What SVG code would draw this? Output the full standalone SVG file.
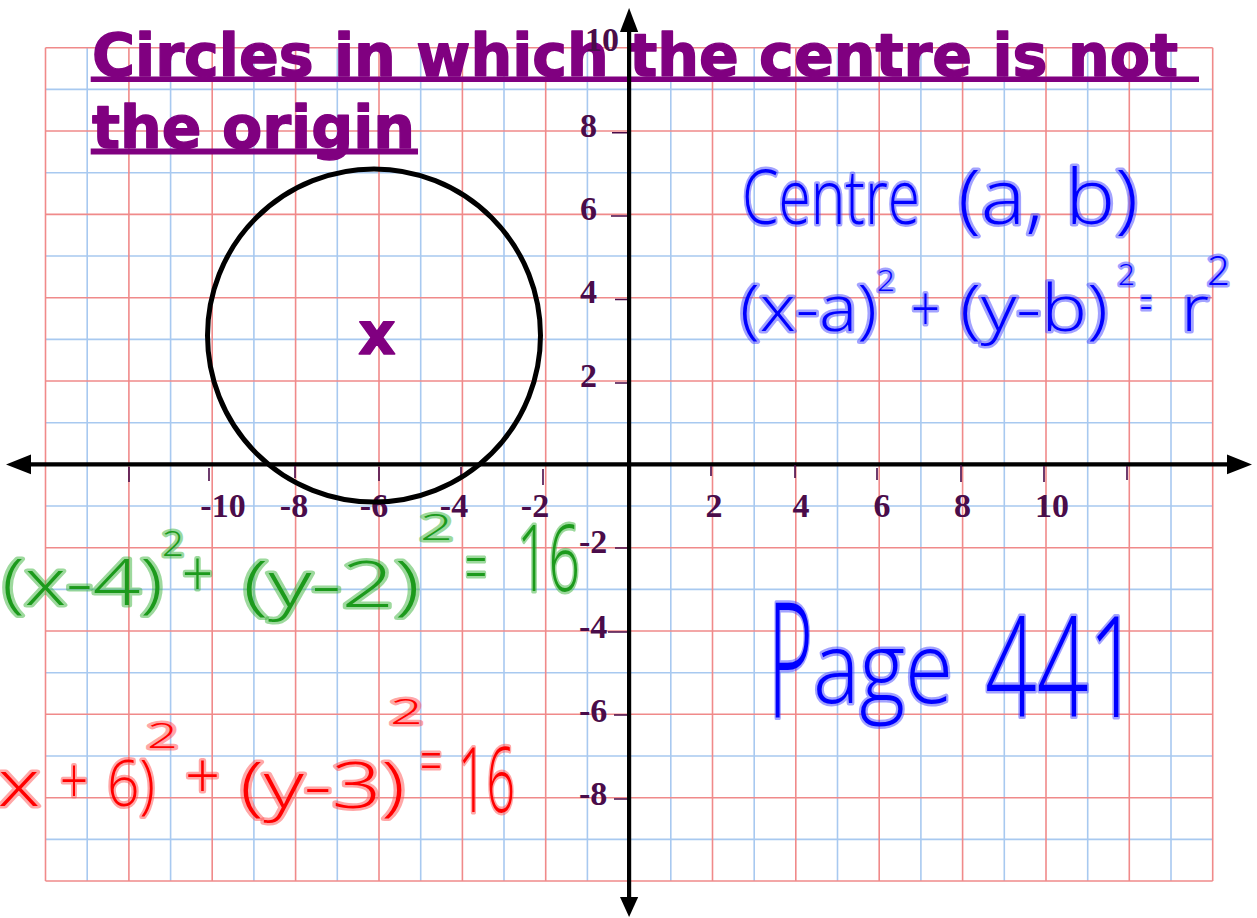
<svg xmlns="http://www.w3.org/2000/svg" width="1257" height="918" viewBox="0 0 1257 918">
<style>
.gb{stroke:#a8c9f0;stroke-width:1.6;fill:none}
.gr{stroke:#f08a8a;stroke-width:1.6;fill:none}
.ax{stroke:#000;stroke-width:4.2;fill:none}
.ah{fill:#000}
.tk{stroke:#4a0c4a;stroke-width:1.6;fill:none}
.lb{font-family:"Liberation Serif","Times New Roman",serif;font-weight:bold;font-size:34px;fill:#4a0c4a}
.title{font-family:"DejaVu Sans",Verdana,sans-serif;font-weight:bold;font-size:59px;fill:#800080;stroke:#800080;stroke-width:1.4px;stroke-linejoin:round}
.ul{fill:#800080}
.hw{font-family:"Open Sans","Noto Sans",sans-serif;font-weight:300;paint-order:stroke;stroke-linejoin:round;stroke-linecap:round;stroke-width:5px}
.blue{fill:#0000ff;stroke:rgba(70,70,255,0.5)}
.green{fill:#1c9a1c;stroke:rgba(60,180,60,0.5)}
.red{fill:#ff0000;stroke:rgba(255,80,80,0.5)}
</style>
<rect width="1257" height="918" fill="#fff"/>
<g id="grid">
<path class="gb" d="M87.2 47.7V881M170.6 47.7V881M253.9 47.7V881M337.3 47.7V881M420.7 47.7V881M504 47.7V881M587.4 47.7V881M670.8 47.7V881M754.2 47.7V881M837.5 47.7V881M920.9 47.7V881M1004.3 47.7V881M1087.7 47.7V881M1171 47.7V881M45.5 89.4H1212.7M45.5 172.7H1212.7M45.5 256H1212.7M45.5 339.4H1212.7M45.5 422.7H1212.7M45.5 506H1212.7M45.5 589.4H1212.7M45.5 672.7H1212.7M45.5 756H1212.7M45.5 839.4H1212.7"/>
<path class="gr" d="M45.5 47.7V881M128.9 47.7V881M212.2 47.7V881M295.6 47.7V881M379 47.7V881M462.4 47.7V881M545.7 47.7V881M629.1 47.7V881M712.5 47.7V881M795.8 47.7V881M879.2 47.7V881M962.6 47.7V881M1046 47.7V881M1129.3 47.7V881M1212.7 47.7V881M45.5 47.7H1212.7M45.5 131H1212.7M45.5 214.4H1212.7M45.5 297.7H1212.7M45.5 381H1212.7M45.5 464.4H1212.7M45.5 547.7H1212.7M45.5 631H1212.7M45.5 714.3H1212.7M45.5 797.7H1212.7M45.5 881H1212.7"/>
</g>
<g id="title">
<text class="title" x="92" y="76" textLength="1086" lengthAdjust="spacingAndGlyphs">Circles in which the centre is not</text>
<rect class="ul" x="90.7" y="76.5" width="1108.3" height="5.5"/>
<text class="title" x="92" y="148" textLength="323" lengthAdjust="spacingAndGlyphs">the origin</text>
<rect class="ul" x="90.7" y="148.5" width="327.3" height="6"/>
</g>
<g id="axes">
<line class="ax" x1="28" y1="464.4" x2="1230" y2="464.4"/>
<polygon class="ah" points="6,464.4 31,454.5 31,474.3"/>
<polygon class="ah" points="1252,464.4 1227,454.5 1227,474.3"/>
<line class="ax" x1="629.1" y1="28" x2="629.1" y2="900"/>
<polygon class="ah" points="629.1,8 620,32 638.2,32"/>
<polygon class="ah" points="629.1,917 620,897 638.2,897"/>
</g>
<g id="ticks">
<path class="tk" d="M129 467V482M209 468V481M295 466V478M379 467V481M461 467V476M543 469V485M711 466V476M795 465V478M877 468V480M961 465V482M1044 466V482M1127 466V480M612 132.7H627M611 216H627M615 299.5H627M615 383H627M615 548H627M608 632H627M614 715H627M614 799H627"/>
</g>
<g id="labels">
<text class="lb" x="223" y="517" text-anchor="middle">-10</text>
<text class="lb" x="294" y="517" text-anchor="middle">-8</text>
<text class="lb" x="374" y="517" text-anchor="middle">-6</text>
<text class="lb" x="454" y="517" text-anchor="middle">-4</text>
<text class="lb" x="535" y="517" text-anchor="middle">-2</text>
<text class="lb" x="714" y="517" text-anchor="middle">2</text>
<text class="lb" x="801" y="517" text-anchor="middle">4</text>
<text class="lb" x="882" y="517" text-anchor="middle">6</text>
<text class="lb" x="962.5" y="517" text-anchor="middle">8</text>
<text class="lb" x="1052" y="517" text-anchor="middle">10</text>
<text class="lb" x="585" y="51">10</text>
<text class="lb" x="580" y="136.7">8</text>
<text class="lb" x="580" y="220">6</text>
<text class="lb" x="580" y="303.3">4</text>
<text class="lb" x="580" y="386.7">2</text>
<text class="lb" x="579" y="553">-2</text>
<text class="lb" x="579" y="638">-4</text>
<text class="lb" x="579" y="721.7">-6</text>
<text class="lb" x="579" y="805">-8</text>
</g>
<g id="circle">
<circle cx="374" cy="335.5" r="166.5" fill="none" stroke="#000" stroke-width="5"/>
<text class="title" x="377" y="354" text-anchor="middle" style="font-size:58px">x</text>
</g>
<g id="centre-note">
<text class="hw blue" y="224" font-size="76"><tspan x="742" textLength="178" lengthAdjust="spacingAndGlyphs">Centre</tspan><tspan x="958" textLength="180" lengthAdjust="spacingAndGlyphs">(a, b)</tspan></text>
</g>
<g id="general-eq">
<text class="hw blue" font-size="64"><tspan x="740" y="331" textLength="137" lengthAdjust="spacingAndGlyphs">(x-a)</tspan><tspan x="877" y="291" font-size="30" textLength="18" lengthAdjust="spacingAndGlyphs">2</tspan><tspan x="911" y="331" textLength="29" lengthAdjust="spacingAndGlyphs">+</tspan><tspan x="960" y="331" textLength="148" lengthAdjust="spacingAndGlyphs">(y-b)</tspan><tspan x="1118" y="285" font-size="30" textLength="17" lengthAdjust="spacingAndGlyphs">2</tspan><tspan x="1140" y="320" font-size="48" textLength="12" lengthAdjust="spacingAndGlyphs">=</tspan><tspan x="1181" y="331" textLength="28" lengthAdjust="spacingAndGlyphs">r</tspan><tspan x="1207" y="285" font-size="40" textLength="23" lengthAdjust="spacingAndGlyphs">2</tspan></text>
</g>
<g id="green-eq">
<text class="hw green" font-size="64"><tspan x="2" y="605" textLength="161" lengthAdjust="spacingAndGlyphs">(x-4)</tspan><tspan x="162" y="556" font-size="34" textLength="22" lengthAdjust="spacingAndGlyphs">2</tspan><tspan x="182" y="596" textLength="31" lengthAdjust="spacingAndGlyphs">+</tspan><tspan x="243" y="607" textLength="177" lengthAdjust="spacingAndGlyphs">(y-2)</tspan><tspan x="420" y="540" font-size="36" textLength="33" lengthAdjust="spacingAndGlyphs">2</tspan><tspan x="465" y="593" font-size="72" textLength="22" lengthAdjust="spacingAndGlyphs">=</tspan><tspan x="517" y="591" font-size="92" textLength="63" lengthAdjust="spacingAndGlyphs">16</tspan></text>
</g>
<g id="red-eq">
<text class="hw red" font-size="64"><tspan x="-2" y="806" textLength="42" lengthAdjust="spacingAndGlyphs">x</tspan><tspan x="60" y="803" textLength="28" lengthAdjust="spacingAndGlyphs">+</tspan><tspan x="107" y="806" textLength="48" lengthAdjust="spacingAndGlyphs">6)</tspan><tspan x="147" y="748" font-size="34" textLength="31" lengthAdjust="spacingAndGlyphs">2</tspan><tspan x="185" y="798" textLength="35" lengthAdjust="spacingAndGlyphs">+</tspan><tspan x="240" y="808" textLength="165" lengthAdjust="spacingAndGlyphs">(y-3)</tspan><tspan x="390" y="724" font-size="34" textLength="33" lengthAdjust="spacingAndGlyphs">2</tspan><tspan x="420" y="782" font-size="60" textLength="22" lengthAdjust="spacingAndGlyphs">=</tspan><tspan x="458" y="812" font-size="90" textLength="57" lengthAdjust="spacingAndGlyphs">16</tspan></text>
</g>
<g id="page-note">
<text class="hw blue"><tspan x="768" y="717" font-size="160" textLength="45" lengthAdjust="spacingAndGlyphs">P</tspan><tspan x="813" y="703" font-size="100" textLength="140" lengthAdjust="spacingAndGlyphs">age</tspan><tspan x="985" y="717" font-size="140" textLength="155" lengthAdjust="spacingAndGlyphs">441</tspan></text>
</g>
</svg>
